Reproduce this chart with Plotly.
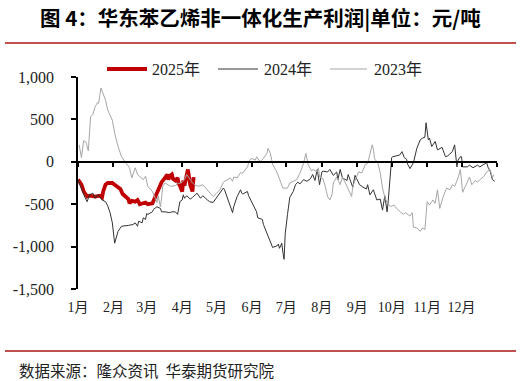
import plotly.graph_objects as go

# ---------------- data (day-of-year, value in 元/吨) ----------------
month_labels = ["1月", "2月", "3月", "4月", "5月", "6月", "7月", "8月", "9月", "10月", "11月", "12月"]
month_start_days = [0, 31, 60, 91, 121, 152, 182, 213, 244, 274, 305, 335]
year_end_day = 366

y_tick_vals = [-1500, -1000, -500, 0, 500, 1000]
y_tick_text = ["-1,500", "-1,000", "-500", "0", "500", "1,000"]

series_names = ["2025年", "2024年", "2023年"]

days_2025 = [0, 2, 3, 5, 8, 10, 15, 19, 21, 22, 24, 26, 30, 32, 35, 37, 39, 41, 44, 45, 47, 50, 52, 54, 56,
             59, 61, 65, 67, 69, 70, 72, 73, 76, 78, 79, 80, 82, 83, 85, 87, 88, 89, 91, 92, 93, 95, 96,
             98, 100, 101]
vals_2025 = [-210, -240, -270, -350, -410, -400, -410, -400, -420, -350, -270, -250, -250, -270, -300, -320,
             -380, -400, -440, -490, -460, -470, -450, -500, -490, -480, -500, -490, -430, -370, -320, -260,
             -240, -190, -150, -210, -170, -150, -200, -220, -190, -260, -280, -350, -220, -280, -170, -90,
             -270, -350, -180]

days_2024 = [0, 2, 4, 6, 8, 10, 13, 15, 17, 19, 21, 24, 26, 28, 30, 31, 32, 35, 38, 44, 48, 50, 52, 53, 56,
             57, 59, 60, 61, 65, 66, 69, 72, 73, 76, 80, 82, 85, 87, 89, 91, 92, 93, 95, 98, 100, 104, 107,
             109, 113, 115, 118, 121, 124, 127, 128, 130, 133, 135, 136, 139, 142, 143, 144, 148, 149, 152,
             155, 156, 157, 161, 162, 165, 168, 170, 174, 175, 176, 178, 179, 180, 181, 182, 183, 185, 188,
             190, 192, 194, 197, 200, 203, 205, 207, 209, 210, 211, 213, 214, 218, 220, 223, 226, 227, 229,
             231, 235, 236, 239, 240, 242, 244, 246, 249, 252, 253, 255, 258, 261, 264, 265, 266, 268, 270,
             271, 273, 274, 275, 281, 283, 285, 287, 288, 290, 292, 293, 296, 299, 301, 303, 304, 306, 307,
             309, 312, 314, 318, 321, 323, 327, 329, 331, 332, 334, 335, 336, 340, 342, 345, 349, 351, 354,
             357, 358, 360, 362, 364]
vals_2024 = [-210, -280, -370, -420, -470, -390, -370, -430, -390, -410, -450, -470, -520, -600, -720, -860,
             -960, -820, -760, -750, -740, -720, -760, -700, -720, -660, -680, -610, -620, -590, -560, -530,
             -550, -590, -590, -600, -590, -590, -620, -470, -450, -390, -430, -400, -440, -420, -370, -430,
             -400, -450, -470, -480, -420, -370, -310, -330, -410, -530, -600, -530, -410, -330, -370, -380,
             -350, -400, -480, -560, -590, -660, -680, -740, -840, -940, -1010, -990, -970, -1020, -960,
             -1070, -1150, -850, -700, -620, -420, -350, -270, -240, -260, -210, -230, -200, -150, -220, -90,
             -180, -270, -120, -110, -120, -90, -160, -120, -210, -90, -190, -220, -150, -250, -300, -160,
             -210, -270, -300, -320, -270, -390, -330, -450, -440, -530, -570, -400, -590, -460, -150, 50, 60,
             80, 120, 50, 30, -30, -80, -30, -10, 160, 260, 280, 290, 460, 260, 280, 180, 240, 140, 170, 60,
             70, 120, 200, -60, 20, 60, 60, -60, -60, -40, -70, -40, -60, -40, -10, -60, -110, -210, -230]

days_2023 = [1, 3, 5, 7, 9, 11, 13, 15, 17, 18, 19, 20, 24, 26, 30, 32, 35, 38, 41, 43, 45, 47, 50, 52, 55,
             57, 59, 61, 65, 67, 69, 70, 72, 73, 74, 76, 79, 81, 85, 87, 91, 93, 95, 100, 102, 105, 109, 113,
             115, 118, 121, 124, 127, 130, 133, 135, 136, 139, 142, 144, 148, 150, 152, 155, 156, 159, 162,
             165, 166, 168, 170, 174, 176, 179, 183, 185, 188, 191, 194, 197, 199, 201, 204, 205, 209, 210,
             211, 214, 216, 218, 220, 222, 223, 226, 229, 231, 235, 238, 239, 240, 244, 245, 248, 251, 253,
             255, 257, 258, 259, 262, 264, 266, 268, 270, 273, 276, 279, 284, 286, 290, 292, 293, 296, 299,
             301, 303, 305, 307, 310, 312, 314, 316, 319, 322, 325, 327, 329, 332, 334, 336, 340, 342, 344,
             347, 349, 351, 354, 357, 360, 362, 363]
vals_2023 = [200, 50, 250, 230, 130, 530, 560, 650, 700, 690, 780, 870, 730, 610, 490, 340, 180, 60, 0, -30,
             -70, -190, -70, -150, -180, -210, -170, -290, -350, -420, -480, -400, -530, -430, -290, -250,
             -270, -290, -280, -260, -240, -210, -150, -250, -270, -290, -270, -330, -370, -410, -370, -330,
             -240, -210, -190, -230, -180, -190, -130, -130, -60, 20, 40, 20, 60, 0, 40, 100, 160, 100, -30,
             -130, -210, -310, -310, -250, -230, -210, -130, -20, 100, -30, -110, -90, -120, -70, -180, -200,
             -290, -410, -450, -380, -250, -180, -270, -180, -290, -390, -410, -290, -170, -120, -130, -30,
             -20, 100, 200, 150, 40, -20, -130, -310, -420, -480, -530, -510, -560, -620, -600, -640, -600,
             -770, -780, -820, -780, -800, -470, -510, -450, -490, -330, -550, -410, -310, -330, -270, -290,
             -190, -90, -360, -250, -180, -270, -220, -240, -210, -180, -120, -90, -190, -150]

# ---------------- figure ----------------
SERIF = "Liberation Serif, Noto Sans CJK SC, serif"
CJK = "Noto Sans CJK SC, sans-serif"

styles = [dict(color="#C00000", width=3.8), dict(color="#333333", width=1), dict(color="#A6A6A6", width=1)]

fig = go.Figure()
fig.add_trace(go.Scatter(x=days_2025, y=vals_2025, mode="lines", name=series_names[0], line=styles[0]))
fig.add_trace(go.Scatter(x=days_2024, y=vals_2024, mode="lines", name=series_names[1], line=styles[1]))
fig.add_trace(go.Scatter(x=days_2023, y=vals_2023, mode="lines", name=series_names[2], line=styles[2],
                         xaxis="x2"))

W, H = 521, 381
L, R, T, B = 78, 24, 77, 92
pw, ph = W - L - R, H - T - B


def px(xp):
    return (xp - L) / pw


def py(yp):
    return (H - B - yp) / ph


zero_frac = (0 - y_tick_vals[0]) / (y_tick_vals[-1] - y_tick_vals[0])

fig.update_layout(
    width=W, height=H, autosize=False,
    margin=dict(l=L, r=R, t=T, b=B),
    paper_bgcolor="white", plot_bgcolor="white",
    showlegend=False,
    xaxis=dict(range=[0, year_end_day], tickvals=month_start_days, ticktext=month_labels,
               showgrid=False, zeroline=False, showline=False, ticks="", automargin=False,
               tickfont=dict(family=SERIF, size=14, color="#222222"), ticklabelstandoff=8),
    xaxis2=dict(matches="x", overlaying="x", anchor="free", position=zero_frac,
                tickvals=month_start_days + [year_end_day], showticklabels=False, automargin=False,
                showgrid=False, zeroline=False, showline=True, linecolor="black", linewidth=1.5,
                ticks="outside", ticklen=4, tickwidth=1.5, tickcolor="black"),
    yaxis=dict(range=[y_tick_vals[0], y_tick_vals[-1]], tickvals=y_tick_vals, ticktext=y_tick_text,
               showgrid=False, zeroline=False, showline=True, linecolor="black", linewidth=1.5,
               ticks="outside", ticklen=5, tickwidth=1.5, tickcolor="black", automargin=False,
               tickfont=dict(family=SERIF, size=16, color="#222222"), ticklabelstandoff=14),
)

# manual legend (line sample + label)
legend_items = [(107, 147, 150), (218, 258, 262), (330, 367, 372)]
for (x0, x1, xt), name, st in zip(legend_items, series_names, styles):
    fig.add_shape(type="line", xref="paper", yref="paper", x0=px(x0), x1=px(x1), y0=py(69), y1=py(69),
                  line=dict(color=st["color"], width=st["width"]))
    fig.add_annotation(text=name, xref="paper", yref="paper", x=px(xt), y=py(69),
                       xanchor="left", yanchor="middle", showarrow=False,
                       font=dict(family=SERIF, size=16, color="#222222"))

# title, separator lines and source note
fig.add_annotation(text="<b>图 4：华东苯乙烯非一体化生产利润|单位：元/吨</b>", xref="paper", yref="paper",
                   x=px(260), y=py(17), xanchor="center", yanchor="middle", showarrow=False,
                   font=dict(family=CJK, size=20.5, color="black"))
fig.add_annotation(text="数据来源：隆众资讯  华泰期货研究院", xref="paper", yref="paper",
                   x=px(17), y=py(370), xanchor="left", yanchor="middle", showarrow=False,
                   font=dict(family=CJK, size=15.5, color="#222222"))
for yl in (43, 351):
    fig.add_shape(type="line", xref="paper", yref="paper", x0=px(5), x1=px(516), y0=py(yl), y1=py(yl),
                  line=dict(color="#C0504D", width=2))

fig.write_html("out.html", config={"displayModeBar": False},
               post_script="document.body.style.margin='0';document.body.style.overflow='hidden';")
